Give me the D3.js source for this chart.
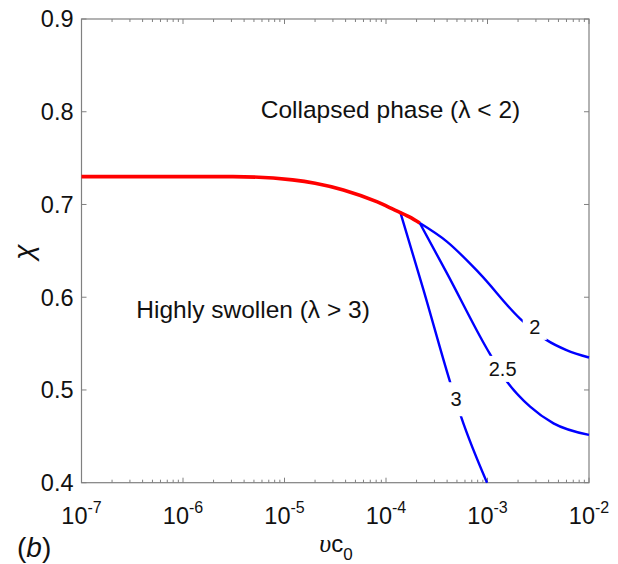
<!DOCTYPE html>
<html><head><meta charset="utf-8">
<script src="https://cdn.jsdelivr.net/npm/d3@7"></script>
<style>body{margin:0;background:#fff}svg{display:block}text{font-family:"Liberation Sans",Arial,Helvetica,sans-serif}</style>
</head><body>
<svg id="c" width="618" height="564"></svg>
<script>
// ---- data ----
const xDomain = [1e-7, 1e-2];
const yDomain = [0.4, 0.9];
const yTicks = [0.4, 0.5, 0.6, 0.7, 0.8, 0.9];
const xTickExps = [-7, -6, -5, -4, -3, -2];
// boundary (red) curve: [vc0, chi]
const boundaryCurve = [[1e-7,0.730],[3.1e-6,0.730],[1.2e-5,0.7265],[2e-5,0.723],[3.8e-5,0.7157],[8.1e-5,0.703],[1.17e-4,0.695],[1.7e-4,0.6866],[2.15e-4,0.680]];
// contour lines of lambda
const contour3 = [[1.38e-4,0.692],[2.34e-4,0.608],[4.27e-4,0.509],[5.5e-4,0.471],[9.9e-4,0.400]];
const contour25 = [[2.15e-4,0.680],[3.98e-4,0.626],[9.8e-4,0.545],[1.51e-3,0.511],[2.63e-3,0.482],[4.47e-3,0.464],[1e-2,0.4515]];
const contour2 = [[2.15e-4,0.680],[3.98e-4,0.660],[8.3e-4,0.626],[2.09e-3,0.577],[3.8e-3,0.554],[6.0e-3,0.543],[1e-2,0.535]];
const contourLabels = [
  {text:"2", x:2.92e-3, y:0.568, w:24, h:26},
  {text:"2.5", x:1.41e-3, y:0.5227, w:34, h:26},
  {text:"3", x:4.9e-4, y:0.490, w:16, h:34}
];
const regionLabels = [
  {text:"Collapsed phase (λ < 2)", x:1.107e-4, y:0.803},
  {text:"Highly swollen (λ > 3)", x:4.9e-6, y:0.587}
];

// ---- layout ----
const L=81.5, R=589, T=19, B=482.7;
const svg=d3.select("#c");
const x=d3.scaleLog().domain(xDomain).range([L,R]);
const y=d3.scaleLinear().domain(yDomain).range([B,T]);
const axisCol="#808080";
const txtCol="#111";

// frame
svg.append("rect").attr("x",L).attr("y",T).attr("width",R-L).attr("height",B-T)
  .attr("fill","none").attr("stroke",axisCol).attr("stroke-width",1.2);

// ticks (inward, mirrored)
const minor=[];
for(let e=-7;e<-2;e++) for(let k=2;k<=9;k++) minor.push(k*Math.pow(10,e));
const major=xTickExps.map(e=>Math.pow(10,e));
const tg=svg.append("g").attr("stroke",axisCol).attr("stroke-width",1);
major.forEach(v=>{const px=x(v);
  tg.append("line").attr("x1",px).attr("x2",px).attr("y1",B).attr("y2",B-5);
  tg.append("line").attr("x1",px).attr("x2",px).attr("y1",T).attr("y2",T+5);});
minor.forEach(v=>{const px=x(v);
  tg.append("line").attr("x1",px).attr("x2",px).attr("y1",B).attr("y2",B-3);
  tg.append("line").attr("x1",px).attr("x2",px).attr("y1",T).attr("y2",T+3);});
yTicks.forEach(v=>{const py=y(v);
  tg.append("line").attr("x1",L).attr("x2",L+5).attr("y1",py).attr("y2",py);
  tg.append("line").attr("x1",R).attr("x2",R-5).attr("y1",py).attr("y2",py);});

// tick labels
yTicks.forEach(v=>{
  svg.append("text").attr("x",73.5).attr("y",y(v)).attr("dy","0.36em")
    .attr("text-anchor","end").attr("font-size",23.5).attr("fill",txtCol).text(v.toFixed(1));
});
xTickExps.forEach(e=>{
  const t=svg.append("text").attr("x",x(Math.pow(10,e))).attr("y",523.5)
    .attr("text-anchor","middle").attr("font-size",23.5).attr("fill",txtCol);
  t.append("tspan").text("10");
  t.append("tspan").attr("dy",-11).attr("font-size",16).text(String(e));
});

// lines
const line=d3.line().x(d=>x(d[0])).y(d=>y(d[1])).curve(d3.curveMonotoneX);
[contour3,contour25,contour2].forEach(c=>{
  svg.append("path").attr("d",line(c)).attr("fill","none").attr("stroke","#0000ff").attr("stroke-width",2.4);
});
svg.append("path").attr("d",line(boundaryCurve)).attr("fill","none").attr("stroke","#ff0000").attr("stroke-width",3.6);

// contour labels with gaps
contourLabels.forEach(l=>{
  svg.append("rect").attr("x",x(l.x)-l.w/2).attr("y",y(l.y)-l.h/2).attr("width",l.w).attr("height",l.h).attr("fill","#fff");
  svg.append("text").attr("x",x(l.x)).attr("y",y(l.y)).attr("dy","0.36em").attr("text-anchor","middle")
    .attr("font-size",20).attr("fill",txtCol).text(l.text);
});

// region labels
regionLabels.forEach(l=>{
  svg.append("text").attr("x",x(l.x)).attr("y",y(l.y)).attr("dy","0.36em").attr("text-anchor","middle")
    .attr("font-size",24.5).attr("fill",txtCol).text(l.text);
});

// axis labels
svg.append("text").attr("transform","translate(33,252) rotate(-90)").attr("text-anchor","middle")
  .attr("font-family","'Liberation Serif',serif").attr("font-style","italic").attr("font-size",28).attr("fill",txtCol).text("χ");
const xl=svg.append("text").attr("x",336).attr("y",552).attr("text-anchor","middle").attr("font-size",24).attr("fill",txtCol);
xl.append("tspan").attr("font-family","'Liberation Serif',serif").attr("font-style","italic").attr("font-size",26).text("υ");
xl.append("tspan").text("c");
xl.append("tspan").attr("dy",8).attr("font-size",17).text("0");
const pl=svg.append("text").attr("x",17).attr("y",557).attr("font-size",28).attr("fill",txtCol);
pl.append("tspan").text("(");
pl.append("tspan").attr("font-style","italic").text("b");
pl.append("tspan").text(")");
</script>
</body></html>
